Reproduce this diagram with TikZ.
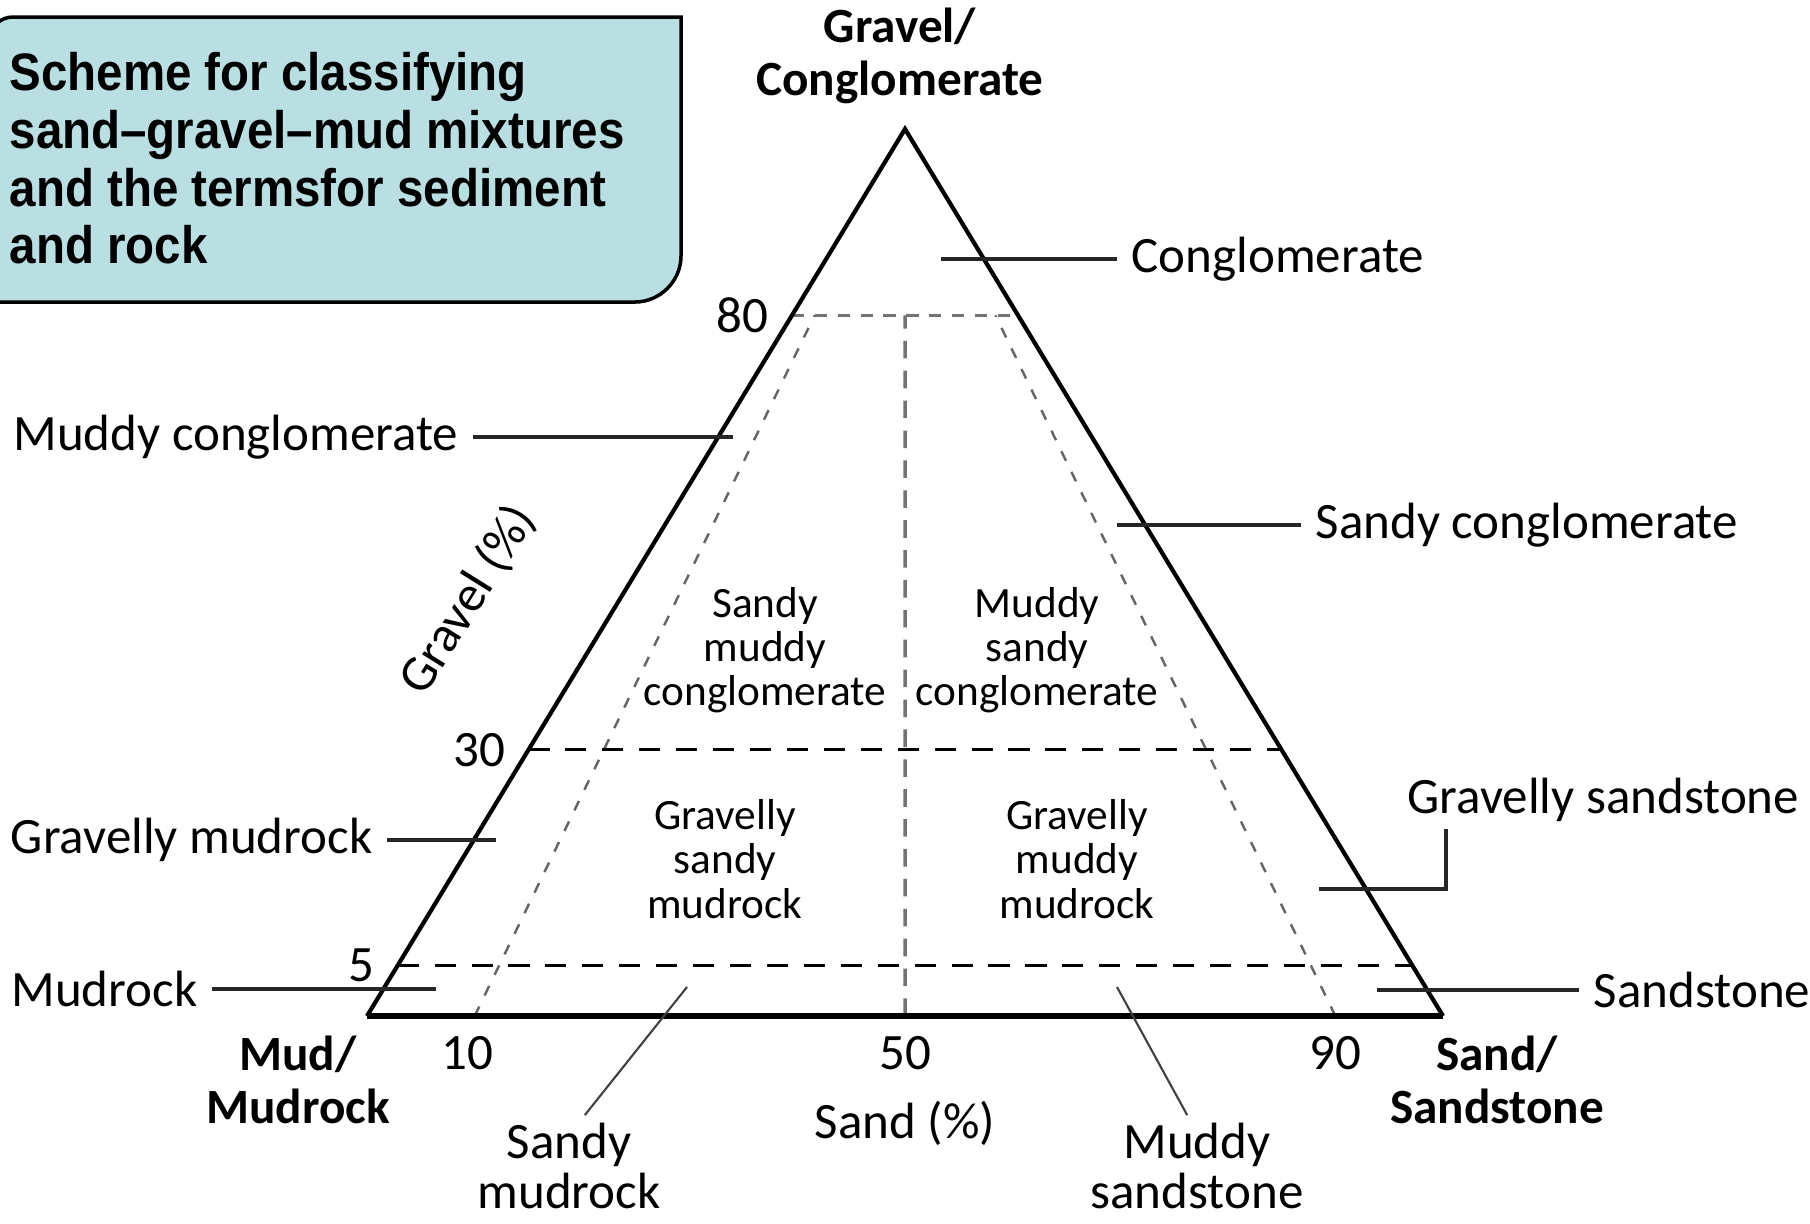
\documentclass[tikz,border=0pt]{standalone}
\usepackage{fontspec}
\setmainfont{Carlito}
\newfontfamily\titlefont[FakeStretch=0.9]{Liberation Sans}
\usetikzlibrary{calc,positioning}
\definecolor{boxfill}{HTML}{B9DFE3}

\begin{document}
\begin{tikzpicture}[
    x=0.01cm, y=-0.01cm,
    side/.style={line width=1.2pt, line join=miter},
    base/.style={line width=1.6pt},
    lvl/.style={dash pattern=on 6pt off 4.5pt, line width=0.85pt},
    lvltop/.style={dash pattern=on 3.5pt off 3pt, line width=0.8pt, black!55},
    ratio/.style={dash pattern=on 3pt off 3.5pt, line width=0.7pt, black!60},
    mid/.style={dash pattern=on 5pt off 3.5pt, line width=1pt, black!55},
    leader/.style={line width=1pt, black!85},
    thinleader/.style={line width=0.6pt, black!75},
    lbl/.style={font=\fontsize{14.5}{15}\selectfont, inner xsep=4pt, inner ysep=2pt},
    inlbl/.style={font=\fontsize{12.3}{12.6}\selectfont, align=center, inner sep=1pt},
    corner/.style={font=\fontsize{14}{15.2}\selectfont\bfseries, align=center},
    num/.style={font=\fontsize{14.5}{15}\selectfont, inner sep=0pt}
]
\useasboundingbox (0,0) rectangle (1810,1223);
% Title box
\filldraw[fill=boxfill, draw=black, line width=1pt]
  (-10,302) -- (-10,40) .. controls (-10,27) and (0,17) .. (13,17)
  -- (681,17) -- (681,256) .. controls (681,281) and (660,302) .. (635,302) -- cycle;
\node[anchor=north west, align=left, inner sep=0pt,
  font=\titlefont\bfseries\fontsize{15}{16.4}\selectfont] (title) at (9,52)
  {Scheme for classifying\\sand–gravel–mud mixtures\\and the termsfor sediment\\and rock};
% Triangle corners
\coordinate (G) at (905,129);
\coordinate (M) at (367,1016);
\coordinate (S) at (1443,1016);
% Gravel levels and sand ratio lines
\coordinate (L80) at ($(M)!0.79!(G)$);  \coordinate (R80) at ($(S)!0.79!(G)$);
\coordinate (L30) at ($(M)!0.30!(G)$);  \coordinate (R30) at ($(S)!0.30!(G)$);
\coordinate (L05) at ($(M)!0.057!(G)$); \coordinate (R05) at ($(S)!0.057!(G)$);
\coordinate (B10) at ($(M)!0.1!(S)$);   \coordinate (T10) at ($(B10)!0.79!(G)$);
\coordinate (B50) at ($(M)!0.5!(S)$);   \coordinate (T50) at ($(B50)!0.79!(G)$);
\coordinate (B90) at ($(M)!0.9!(S)$);   \coordinate (T90) at ($(B90)!0.79!(G)$);
\draw[lvltop] (L80) -- (R80);
\draw[ratio] (B10) -- (T10);
\draw[ratio] (B90) -- (T90);
\draw[mid] (B50) -- (T50);
\draw[lvl] (L30) -- (R30);
\draw[lvl] (L05) -- (R05);
\draw[side] (M) -- (G) -- (S);
\draw[base] (M) -- (S);
% Corner labels
\node[corner] (nGrav) at (900,56) {Gravel/\\Conglomerate};
\node[corner] (nMud) at (298,1080) {Mud/\\Mudrock};
\node[corner] (nSand) at (1497,1080) {Sand/\\Sandstone};
% Axis numbers
\node[num, left=6.5pt of L80] (n80) {80};
\node[num, left=6.5pt of L30] (n30) {30};
\node[num, left=6.5pt of L05] (n05) {5};
\node[num, below=5.5pt of B10, xshift=-2pt] (n10) {10};
\node[num, below=5.5pt of B50] (n50) {50};
\node[num, below=5.5pt of B90] (n90) {90};
\node[lbl] (nSandAx) at (905,1123) {Sand (\%)};
\node[lbl, rotate=58] (nGravAx) at (468,600) {Gravel (\%)};
% Field names inside
\node[inlbl] (iSMC) at (765,650) {Sandy\\muddy\\conglomerate};
\node[inlbl] (iMSC) at (1037,650) {Muddy\\sandy\\conglomerate};
\node[inlbl] (iGSM) at (725,859) {Gravelly\\sandy\\mudrock};
\node[inlbl] (iGMM) at (1077,859) {Gravelly\\muddy\\mudrock};
% Right labels
\coordinate (pCong) at (941,259);
\node[lbl, anchor=west] (lCong) at (1117,259) {Conglomerate};
\draw[leader] (pCong) -- (lCong.west);
\coordinate (pSCong) at (1117,525);
\node[lbl, anchor=west] (lSCong) at (1301,525) {Sandy conglomerate};
\draw[leader] (pSCong) -- (lSCong.west);
\coordinate (pGSst) at (1319,889);
\coordinate (kGSst) at (1446,889);
\node[lbl, anchor=south west] (lGSst) at (1393,829) {Gravelly sandstone};
\draw[leader] (pGSst) -- (kGSst) -- (kGSst |- lGSst.south);
\coordinate (pSst) at (1377,990);
\node[lbl, anchor=west] (lSst) at (1579,990) {Sandstone};
\draw[leader] (pSst) -- (lSst.west);
% Left labels
\coordinate (pMCong) at (733,437);
\node[lbl, anchor=east] (lMCong) at (473,437) {Muddy conglomerate};
\draw[leader] (lMCong.east) -- (pMCong);
\coordinate (pGMud) at (496,840);
\node[lbl, anchor=east] (lGMud) at (387,840) {Gravelly mudrock};
\draw[leader] (lGMud.east) -- (pGMud);
\coordinate (pMud) at (436,989);
\node[lbl, anchor=east] (lMud) at (212,989) {Mudrock};
\draw[leader] (lMud.east) -- (pMud);
% Bottom labels
\coordinate (pSMud) at (687,987);
\node[lbl, align=center, font=\fontsize{14.5}{14.4}\selectfont] (lSMud) at (569,1166) {Sandy\\mudrock};
\draw[thinleader] (pSMud) -- ([xshift=4.5pt]lSMud.north);
\coordinate (pMSst) at (1117,987);
\node[lbl, align=center, font=\fontsize{14.5}{14.4}\selectfont] (lMSst) at (1197,1166) {Muddy\\sandstone};
\draw[thinleader] (pMSst) -- ([xshift=-2.8pt]lMSst.north);
\end{tikzpicture}
\end{document}
